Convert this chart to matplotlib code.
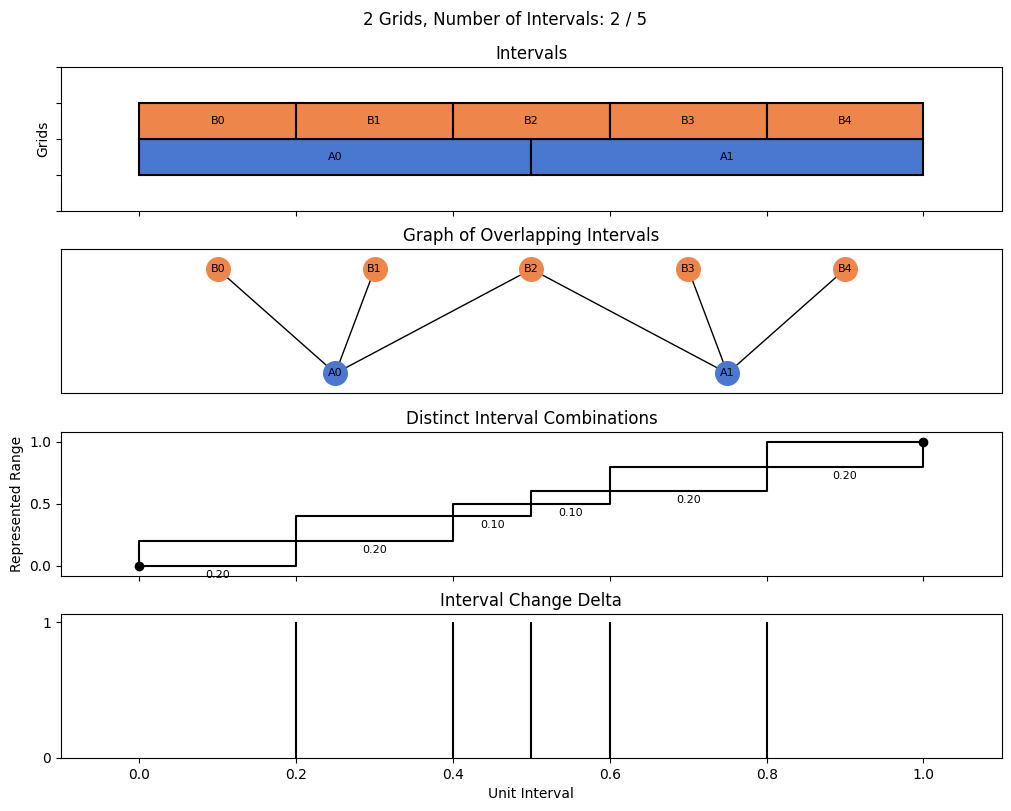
import matplotlib.pyplot as plt
import numpy as np

GRID_NAMES = ["A", "B"]
GRID_EDGES = [
    [0.0, 0.5, 1.0],
    [0.0, 0.2, 0.4, 0.6, 0.8, 1.0],
]
GRID_COLORS = ["#4878D0", "#EE854A"]

# cumulative breakpoints of the distinct combinations
BREAKS = [0.0, 0.2, 0.4, 0.5, 0.6, 0.8, 1.0]
CHANGES = [0.2, 0.4, 0.5, 0.6, 0.8]

fig, axes = plt.subplots(4, 1, figsize=(10.11, 8.11), dpi=100, sharex=True)
fig.subplots_adjust(left=0.0603, right=0.991, top=0.9174, bottom=0.0654, hspace=0.27)
fig.suptitle("2 Grids, Number of Intervals: 2 / 5", y=0.986)

# intervals
ax = axes[0]
ax.set_title("Intervals")
for row, (name, edges, color) in enumerate(zip(GRID_NAMES, GRID_EDGES, GRID_COLORS)):
    edges = np.array(edges)
    widths = np.diff(edges)
    ax.barh(row + 0.5, widths, left=edges[:-1], height=1.0, color=color,
            edgecolor="black", linewidth=1.5)
    for i, (x0, w) in enumerate(zip(edges[:-1], widths)):
        ax.text(x0 + w / 2, row + 0.5, f"{name}{i}", ha="center", va="center", fontsize=8)
ax.set_ylim(-1, 3)
ax.set_yticks([-1, 0, 1, 2, 3])
ax.tick_params(axis="y", labelleft=False)
ax.set_ylabel("Grids")

# overlap graph
ax = axes[1]
ax.set_title("Graph of Overlapping Intervals")
a_edges = np.array(GRID_EDGES[0])
b_edges = np.array(GRID_EDGES[1])
a_mid = (a_edges[:-1] + a_edges[1:]) / 2
b_mid = (b_edges[:-1] + b_edges[1:]) / 2
for i in range(len(a_mid)):
    for j in range(len(b_mid)):
        if min(a_edges[i + 1], b_edges[j + 1]) > max(a_edges[i], b_edges[j]):
            ax.plot([a_mid[i], b_mid[j]], [0, 1], color="black", lw=1, zorder=1)
for row, (name, mids, color) in enumerate(zip(GRID_NAMES, [a_mid, b_mid], GRID_COLORS)):
    ax.plot(mids, np.full(len(mids), row), "o", ms=18, color=color, mec="none", zorder=2)
    for i, m in enumerate(mids):
        ax.text(m, row, f"{name}{i}", ha="center", va="center", fontsize=8, zorder=3)
ax.set_ylim(-0.19, 1.19)
ax.tick_params(bottom=False, left=False, labelleft=False)

# distinct combinations
ax = axes[2]
ax.set_title("Distinct Interval Combinations")
c = np.array(BREAKS)
ax.step(c[[0, 1, 3, 5, 6]], c[[0, 2, 4, 6, 6]], where="post", color="black", lw=1.5)
ax.step(c[[0, 0, 2, 4, 6]], c[[0, 1, 3, 5, 6]], where="post", color="black", lw=1.5)
ax.plot([c[0], c[-1]], [c[0], c[-1]], "o", color="black", ms=6, ls="none")
for i in range(len(c) - 1):
    ax.annotate(f"{c[i + 1] - c[i]:.2f}", ((c[i] + c[i + 1]) / 2, c[i]),
                xytext=(0, -3), textcoords="offset points", ha="center", va="top",
                fontsize=8)
ax.set_ylim(-0.08, 1.08)
ax.set_yticks([0, 0.5, 1.0])
ax.set_ylabel("Represented Range")

# change delta
ax = axes[3]
ax.set_title("Interval Change Delta")
ax.vlines(CHANGES, 0, 1, color="black", lw=1.5)
ax.set_ylim(0, 1.06)
ax.set_yticks([0, 1])
ax.set_xlim(-0.1, 1.1)
ax.set_xlabel("Unit Interval")

fig.savefig("out.png", dpi=100)
